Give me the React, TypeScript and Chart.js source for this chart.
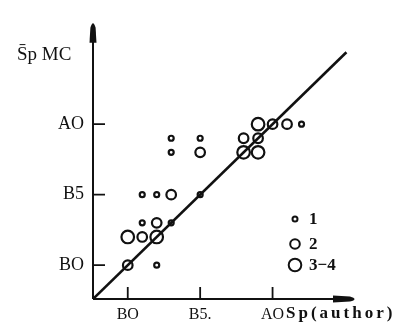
import React, { useEffect, useRef } from "react";
import { Chart, registerables } from "chart.js";

Chart.register(...registerables);

// Spectral-type index: B0 = 0, B5 = 5, A0 = 10
const tickValues = [0, 5, 10];
const xTickLabels = ["BO", "B5.", "AO"];
const yTickLabels = ["BO", "B5", "AO"];
const xTitle = "Sp(author)";
const yTitle = "S\u0304p MC";
const legendLabels = ["1", "2", "3\u22124"];

// number of stars = 1
const smallX = [3, 3, 5, 12, 1, 2, 5, 1, 3, 2];
const smallY = [9, 8, 9, 10, 5, 5, 5, 3, 3, 0];
// number of stars = 2
const medX = [5, 10, 11, 8, 9, 3, 2, 1, 0];
const medY = [8, 10, 10, 9, 9, 5, 3, 2, 0];
// number of stars = 3-4
const largeX = [9, 8, 9, 0, 2];
const largeY = [10, 8, 8, 2, 2];

// one-to-one line
const diagX = [-2.4, 15.1];
const diagY = [-2.4, 15.1];

const axisMin = -2.4;
const xMax = 15.9;
const yMax = 17.4;

const INK = "#111";
const SERIF = "'Liberation Serif', 'Times New Roman', serif";
const radii = [2.5, 4.8, 6.3];

const toPts = (xs: number[], ys: number[]) => xs.map((x, i) => ({ x, y: ys[i] }));

const decorPlugin = {
  id: "decor",
  beforeDraw(chart: any) {
    const ctx = chart.ctx;
    ctx.save();
    ctx.fillStyle = "#ffffff";
    ctx.fillRect(0, 0, chart.width, chart.height);
    ctx.restore();
  },
  afterDraw(chart: any) {
    const ctx = chart.ctx;
    const xs = chart.scales.x;
    const ys = chart.scales.y;
    const ox = xs.getPixelForValue(axisMin);
    const oy = ys.getPixelForValue(axisMin);
    const top = ys.getPixelForValue(yMax);
    const right = xs.getPixelForValue(xMax);
    ctx.save();
    ctx.strokeStyle = INK;
    ctx.fillStyle = INK;
    ctx.lineWidth = 2;
    // axes
    ctx.beginPath();
    ctx.moveTo(ox, oy);
    ctx.lineTo(ox, top + 20);
    ctx.moveTo(ox, oy);
    ctx.lineTo(right - 20, oy);
    ctx.stroke();
    // y arrow
    ctx.beginPath();
    ctx.moveTo(ox - 3.5, top + 23);
    ctx.lineTo(ox - 2.6, top + 8);
    ctx.quadraticCurveTo(ox, top - 1, ox + 2.6, top + 8);
    ctx.lineTo(ox + 3.5, top + 23);
    ctx.closePath();
    ctx.fill();
    // x arrow
    ctx.beginPath();
    ctx.moveTo(right - 25, oy - 3.5);
    ctx.lineTo(right - 8, oy - 2.6);
    ctx.quadraticCurveTo(right + 1, oy, right - 8, oy + 2.6);
    ctx.lineTo(right - 25, oy + 3.5);
    ctx.closePath();
    ctx.fill();
    // inward ticks
    ctx.lineWidth = 1.8;
    ctx.beginPath();
    tickValues.forEach((v) => {
      const px = xs.getPixelForValue(v);
      ctx.moveTo(px, oy);
      ctx.lineTo(px, oy - 12);
      const py = ys.getPixelForValue(v);
      ctx.moveTo(ox, py);
      ctx.lineTo(ox + 12, py);
    });
    ctx.stroke();
    // titles
    ctx.textBaseline = "middle";
    ctx.textAlign = "left";
    ctx.font = `19px ${SERIF}`;
    ctx.fillText(yTitle, 17, 55);
    ctx.font = `bold 17px ${SERIF}`;
    try { (ctx as any).letterSpacing = "3px"; } catch (e) {}
    ctx.fillText(xTitle, 286, 314);
    try { (ctx as any).letterSpacing = "0px"; } catch (e) {}
    // legend
    const ly = [219, 244, 265];
    ctx.lineWidth = 2;
    legendLabels.forEach((lab, i) => {
      ctx.beginPath();
      ctx.arc(295, ly[i], radii[i], 0, Math.PI * 2);
      ctx.stroke();
      ctx.font = `bold 17px ${SERIF}`;
      ctx.fillText(lab, 309, ly[i] + 1);
    });
    ctx.restore();
  },
};

export default function App() {
  const ref = useRef<HTMLCanvasElement | null>(null);
  useEffect(() => {
    if (!ref.current) return;
    const pointDs = (xs: number[], ys: number[], r: number) => ({
      data: toPts(xs, ys),
      pointRadius: r,
      pointHoverRadius: r,
      pointBorderWidth: 2.2,
      pointBorderColor: INK,
      pointBackgroundColor: "rgba(0,0,0,0)",
      showLine: false,
    });
    const chart = new Chart(ref.current, {
      type: "scatter",
      data: {
        datasets: [
          {
            data: toPts(diagX, diagY),
            showLine: true,
            borderColor: INK,
            borderWidth: 2.6,
            pointRadius: 0,
            pointHoverRadius: 0,
          } as any,
          pointDs(smallX, smallY, radii[0]),
          pointDs(medX, medY, radii[1]),
          pointDs(largeX, largeY, radii[2]),
        ],
      },
      options: {
        responsive: false,
        animation: false,
        events: [],
        layout: { padding: { left: 0, right: 40, top: 12, bottom: 0 } },
        plugins: { legend: { display: false }, tooltip: { enabled: false } },
        scales: {
          x: {
            type: "linear",
            min: axisMin,
            max: xMax,
            grid: { display: false, drawTicks: false },
            border: { display: false },
            afterBuildTicks: (s: any) => {
              s.ticks = tickValues.map((v) => ({ value: v }));
            },
            afterFit: (s: any) => {
              s.height = 32;
            },
            ticks: {
              autoSkip: false,
              maxRotation: 0,
              padding: 6,
              color: INK,
              font: { family: SERIF, size: 16 },
              callback: (v: any) => xTickLabels[tickValues.indexOf(Number(v))] ?? "",
            },
          },
          y: {
            type: "linear",
            min: axisMin,
            max: yMax,
            grid: { display: false, drawTicks: false },
            border: { display: false },
            afterBuildTicks: (s: any) => {
              s.ticks = tickValues.map((v) => ({ value: v }));
            },
            afterFit: (s: any) => {
              s.width = 93;
            },
            ticks: {
              autoSkip: false,
              padding: 9,
              color: INK,
              font: { family: SERIF, size: 18 },
              callback: (v: any) => yTickLabels[tickValues.indexOf(Number(v))] ?? "",
            },
          },
        },
      },
      plugins: [decorPlugin],
    } as any);
    return () => chart.destroy();
  }, []);
  return (
    <div style={{ position: "fixed", left: 0, top: 0, width: 398, height: 331, background: "#fff" }}>
      <canvas ref={ref} width={398} height={331} style={{ display: "block" }} />
    </div>
  );
}
